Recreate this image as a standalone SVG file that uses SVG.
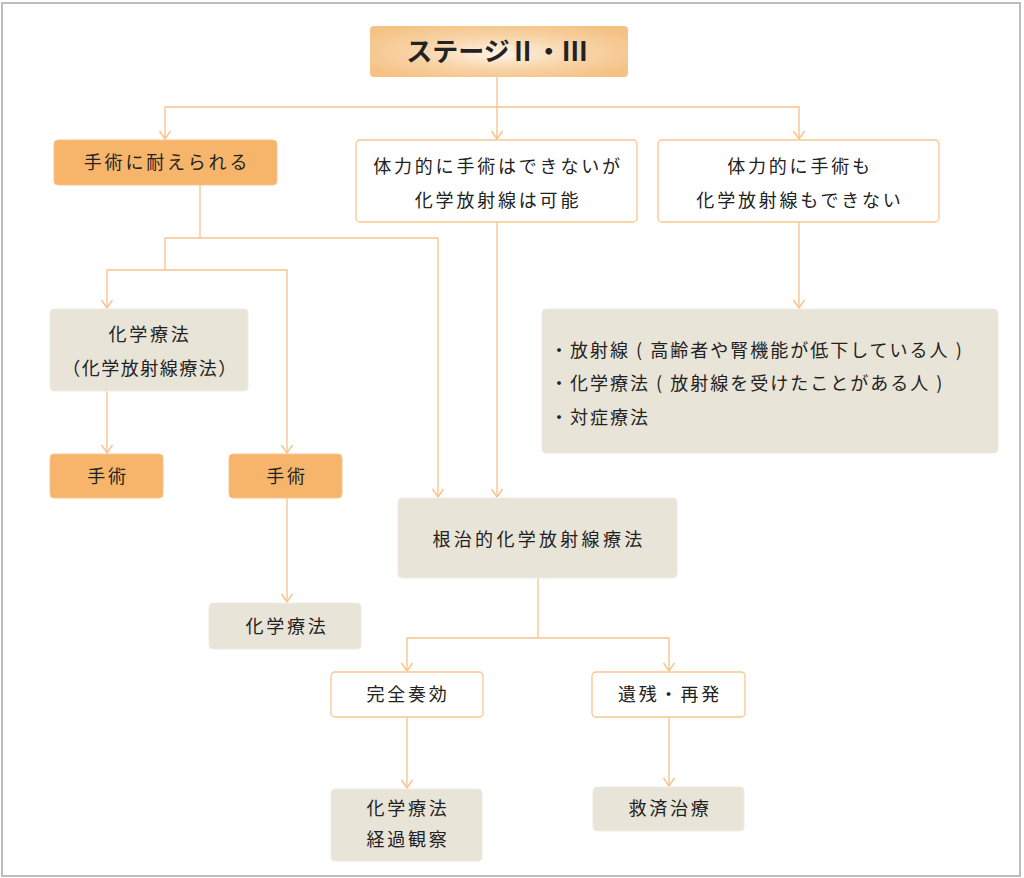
<svg xmlns="http://www.w3.org/2000/svg" width="1024" height="878" viewBox="0 0 1024 878">
<defs>
<radialGradient id="tg" cx="0.5" cy="0.5" r="0.6" fx="0.5" fy="0.55">
<stop offset="0" stop-color="#fdf3e6"/>
<stop offset="0.55" stop-color="#f8d3a6"/>
<stop offset="1" stop-color="#f5c286"/>
</radialGradient>
<marker id="ar" markerUnits="userSpaceOnUse" markerWidth="12" markerHeight="14" viewBox="0 0 12 14" refX="11" refY="7" orient="auto-start-reverse">
<path d="M3,1.5 L11,7 L3,12.5" fill="none" stroke="#f8c28a" stroke-width="1.4"/>
</marker>
<style>
.t{font-family:"Noto Sans CJK JP","Noto Sans",sans-serif;fill:#222;font-size:18px;letter-spacing:2.8px}
.c{text-anchor:middle}
.or{fill:#f7b56b;stroke:#f7c590;stroke-width:1}
.gy{fill:#e9e4d8;stroke:#efebe2;stroke-width:1}
.wh{fill:#fff;stroke:#f9c68e;stroke-width:1.3}
.ln{fill:none;stroke:#f8c28a;stroke-width:1.3}
</style>
</defs>
<rect x="2" y="3" width="1018" height="873" fill="#fff" stroke="#bdbdbd" stroke-width="2"/>
<g id="connectors">
<polyline class="ln" points="497,77 497,139" marker-end="url(#ar)"/>
<polyline class="ln" points="165,139 165,107 799,107 799,139" marker-start="url(#ar)" marker-end="url(#ar)"/>
<polyline class="ln" points="200,185 200,238 438,238 438,497" marker-end="url(#ar)"/>
<polyline class="ln" points="165,270 165,238 200,238"/>
<polyline class="ln" points="107,308 107,270 287,270 287,453" marker-start="url(#ar)" marker-end="url(#ar)"/>
<polyline class="ln" points="107,391 107,453" marker-end="url(#ar)"/>
<polyline class="ln" points="287,498 287,602" marker-end="url(#ar)"/>
<polyline class="ln" points="497,222 497,497" marker-end="url(#ar)"/>
<polyline class="ln" points="799,222 799,308" marker-end="url(#ar)"/>
<polyline class="ln" points="538,578 538,638"/>
<polyline class="ln" points="407,671 407,638 669,638 669,671" marker-start="url(#ar)" marker-end="url(#ar)"/>
<polyline class="ln" points="407,717 407,788" marker-end="url(#ar)"/>
<polyline class="ln" points="669,717 669,786" marker-end="url(#ar)"/>
</g>
<g id="n-title">
<rect x="370" y="26" width="258" height="51" rx="4" fill="url(#tg)"/>
<text class="t c" x="497" y="61" style="font-size:26px;font-weight:bold;letter-spacing:0">ステージⅡ・Ⅲ</text>
</g>
<g id="n-taerareru">
<rect class="or" x="54" y="140" width="223" height="45" rx="4"/>
<text class="t c" x="167" y="169">手術に耐えられる</text>
</g>
<g id="n-kagaku-ok">
<rect class="wh" x="356" y="140" width="281" height="82" rx="4"/>
<text class="t c" x="498" y="173">体力的に手術はできないが</text>
<text class="t c" x="498" y="207">化学放射線は可能</text>
</g>
<g id="n-dekinai">
<rect class="wh" x="658" y="140" width="281" height="82" rx="4"/>
<text class="t c" x="800" y="173">体力的に手術も</text>
<text class="t c" x="800" y="207">化学放射線もできない</text>
</g>
<g id="n-kagaku1">
<rect class="gy" x="50" y="309" width="198" height="82" rx="4"/>
<text class="t c" x="150" y="341">化学療法</text>
<text class="t c" x="150" y="375" style="letter-spacing:1.5px">（化学放射線療法）</text>
</g>
<g id="n-shujutsu1">
<rect class="or" x="50" y="454" width="113" height="44" rx="4"/>
<text class="t c" x="108" y="483">手術</text>
</g>
<g id="n-shujutsu2">
<rect class="or" x="229" y="454" width="113" height="44" rx="4"/>
<text class="t c" x="287" y="483">手術</text>
</g>
<g id="n-kagaku2">
<rect class="gy" x="209" y="603" width="152" height="46" rx="4"/>
<text class="t c" x="287" y="633">化学療法</text>
</g>
<g id="n-options">
<rect class="gy" x="542" y="309" width="456" height="144" rx="4"/>
<text class="t" x="550" y="357" style="letter-spacing:2px">・放射線 ( 高齢者や腎機能が低下している人 )</text>
<text class="t" x="550" y="390" style="letter-spacing:2px">・化学療法 ( 放射線を受けたことがある人 )</text>
<text class="t" x="550" y="424" style="letter-spacing:2px">・対症療法</text>
</g>
<g id="n-konchi">
<rect class="gy" x="398" y="498" width="279" height="80" rx="4"/>
<text class="t c" x="539" y="546" style="letter-spacing:3.3px">根治的化学放射線療法</text>
</g>
<g id="n-kanzen">
<rect class="wh" x="331" y="672" width="152" height="45" rx="4"/>
<text class="t c" x="408" y="701">完全奏効</text>
</g>
<g id="n-izan">
<rect class="wh" x="592" y="672" width="153" height="45" rx="4"/>
<text class="t c" x="670" y="701">遺残・再発</text>
</g>
<g id="n-keika">
<rect class="gy" x="331" y="789" width="151" height="72" rx="4"/>
<text class="t c" x="408" y="815">化学療法</text>
<text class="t c" x="408" y="846">経過観察</text>
</g>
<g id="n-kyusai">
<rect class="gy" x="593" y="787" width="151" height="44" rx="4"/>
<text class="t c" x="670" y="815">救済治療</text>
</g>
</svg>
